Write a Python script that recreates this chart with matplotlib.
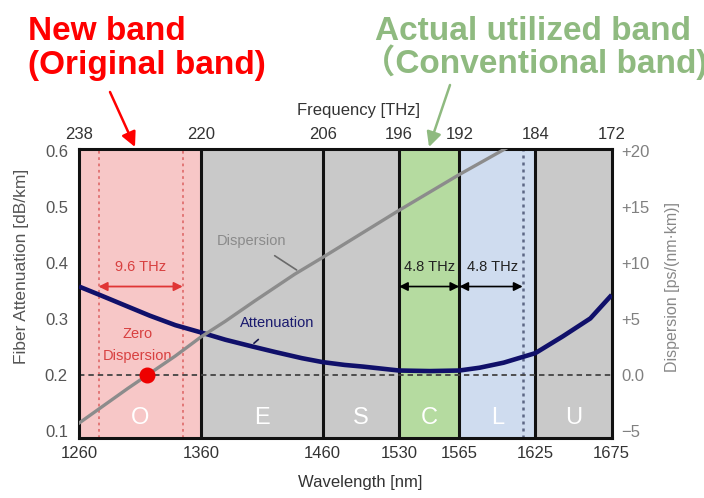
import numpy as np
import matplotlib
matplotlib.use("Agg")
import matplotlib.pyplot as plt

plt.rcParams['font.family'] = ['Liberation Sans', 'Noto Sans CJK JP', 'DejaVu Sans']

# bands and their edges
band_names = ['O', 'E', 'S', 'C', 'L', 'U']
band_edges = [1260, 1360, 1460, 1530, 1565, 1625, 1675]
freq_labels = ['238', '220', '206', '196', '192', '184', '172']
band_colors = ['#f7c7c7', '#c9c9c9', '#c9c9c9', '#b5dba0', '#cfdcef', '#c9c9c9']

# fiber attenuation [dB/km]
att_wl = [1260, 1277, 1298, 1318, 1339, 1360, 1380, 1402, 1421, 1443, 1460,
          1480, 1497, 1530, 1548, 1565, 1581, 1600, 1625, 1643, 1661, 1675]
att_val = [0.358, 0.343, 0.324, 0.306, 0.289, 0.276, 0.263, 0.251, 0.241, 0.230, 0.223,
           0.218, 0.215, 0.208, 0.207, 0.208, 0.213, 0.222, 0.239, 0.269, 0.301, 0.343]

# dispersion [ps/(nm km)]
disp_wl = [1260, 1300, 1339, 1360, 1380, 1404, 1437, 1460, 1530, 1565, 1606]
disp_val = [-4.3, -1.2, 1.7, 3.4, 4.8, 6.6, 9.0, 10.5, 14.7, 17.9, 20.5]
zero_disp_wl = 1316

# channel spacing markers
o_span = [1276, 1345]
c_span = [1530, 1565]
l_span = [1565, 1615]

# the original drawing is schematic: each band gets its own width
edge_px = [0, 122, 243.7, 320, 380.3, 456.3, 532.7]


def fwd(w):
    return np.interp(w, band_edges, edge_px)


def inv(p):
    return np.interp(p, edge_px, band_edges)


fig = plt.figure(figsize=(7.04, 4.98), dpi=100)
ax = fig.add_axes([0.1122, 0.1205, 0.7567, 0.5803])
ax.set_xscale('function', functions=(fwd, inv))
ax.set_xlim(band_edges[0], band_edges[-1])
ax.set_ylim(0.0875, 0.6036)

for i, name in enumerate(band_names):
    lo, hi = band_edges[i], band_edges[i + 1]
    ax.axvspan(lo, hi, color=band_colors[i], lw=0, zorder=0)
    ax.text((lo + hi) / 2, 0.123, name, color='white', fontsize=17,
            ha='center', va='center', zorder=2)
for e in band_edges[1:-1]:
    ax.axvline(e, color='#111111', lw=2.2, zorder=2)

ax.axhline(0.2, color='#444444', lw=1.3, ls=(0, (3, 2.2)), zorder=2.5)
for w in o_span:
    ax.axvline(w, color='#e07070', lw=1.3, ls=(0, (1.5, 2)), zorder=2)
ax.axvline(l_span[1], color='#5d6785', lw=1.8, ls=(0, (1.2, 1.6)), zorder=2)

ax.plot(att_wl, att_val, color='#10106a', lw=3.3, zorder=3,
        solid_capstyle='butt', solid_joinstyle='round')

# arrows for the spacing
ax.annotate('', xy=(o_span[0], 0.358), xytext=(o_span[1], 0.358),
            arrowprops=dict(arrowstyle='<|-|>', color='#e03535', lw=1.3,
                            mutation_scale=13, shrinkA=0, shrinkB=0), zorder=4)
ax.text(sum(o_span) / 2, 0.393, '9.6 THz', color='#d84040', fontsize=10.5,
        ha='center', va='center')
for span in (c_span, l_span):
    ax.annotate('', xy=(span[0], 0.358), xytext=(span[1], 0.358),
                arrowprops=dict(arrowstyle='<|-|>', color='black', lw=1.2,
                                mutation_scale=13, shrinkA=0, shrinkB=0), zorder=4)
ax.text(1547.5, 0.393, '4.8 THz', color='#222222', fontsize=10.5, ha='center', va='center')
ax.text(1591, 0.393, '4.8 THz', color='#222222', fontsize=10.5, ha='center', va='center')

# curve labels with leader lines
ax.annotate('Dispersion', xy=(1438.6, 0.3875), xytext=(1401.5, 0.440),
            color='#8a8a8a', fontsize=10.5, ha='center', va='center',
            arrowprops=dict(arrowstyle='-', color='#6a6a6a', lw=1.2,
                            shrinkA=7, shrinkB=0))
ax.annotate('Attenuation', xy=(1403.5, 0.2566), xytext=(1422.4, 0.2923),
            color='#1a1a6e', fontsize=10.5, ha='center', va='center',
            arrowprops=dict(arrowstyle='-', color='#1a1a50', lw=1.2,
                            shrinkA=7, shrinkB=0))
ax.text(1308, 0.2536, 'Zero\nDispersion', color='#d84040', fontsize=10.5,
        ha='center', va='center', linespacing=1.7)

for s in ax.spines.values():
    s.set_linewidth(2.2)
    s.set_color('#111111')

ax.set_xticks(band_edges)
ax.set_xticklabels([str(w) for w in band_edges])
ax.set_yticks([0.1, 0.2, 0.3, 0.4, 0.5, 0.6])
ax.set_yticklabels(['0.1', '0.2', '0.3', '0.4', '0.5', '0.6'])
ax.tick_params(axis='x', length=0, pad=6, labelsize=12, labelcolor='#333333')
ax.tick_params(axis='y', length=0, pad=8, labelsize=12, labelcolor='#555555')
ax.set_xlabel('Wavelength [nm]', fontsize=12, color='#333333')
ax.xaxis.set_label_coords(0.528, -0.128)
ax.set_ylabel('Fiber Attenuation [dB/km]', fontsize=12.5, color='#555555')
ax.yaxis.set_label_coords(-0.094, 0.595)

# right axis: dispersion
ax_r = ax.twinx()
ax_r.set_ylim(-5.625, 20.18)
ax_r.plot(disp_wl, disp_val, color='#8c8c8c', lw=2.4, zorder=3,
          solid_joinstyle='round')
ax_r.plot([zero_disp_wl], [0], 'o', color='#ee0000', ms=10.5, zorder=5)
ax_r.set_yticks([-5, 0, 5, 10, 15, 20])
ax_r.set_yticklabels(['\u22125', '0.0', '+5', '+10', '+15', '+20'])
ax_r.tick_params(axis='y', length=0, pad=7, labelsize=12, labelcolor='#808080')
ax_r.set_ylabel('Dispersion [ps/(nm\u00b7km)]', fontsize=11.5, color='#888888')
ax_r.yaxis.set_label_coords(1.10, 0.5235)
for s in ax_r.spines.values():
    s.set_visible(False)

# top axis: frequency
ax_t = ax.twiny()
ax_t.set_xscale('function', functions=(fwd, inv))
ax_t.set_xlim(band_edges[0], band_edges[-1])
ax_t.set_xticks(band_edges)
ax_t.set_xticklabels(freq_labels)
ax_t.tick_params(axis='x', length=0, pad=5, labelsize=12, labelcolor='#333333')
ax_t.set_xlabel('Frequency [THz]', fontsize=12, color='#333333')
ax_t.xaxis.set_label_coords(0.524, 1.118)
for s in ax_t.spines.values():
    s.set_visible(False)

# headline texts and pointers
fig.text(28 / 704, 1 - 40 / 498, 'New band', color='#ff0000', fontsize=24,
         fontweight='bold', va='baseline')
fig.text(28 / 704, 1 - 74 / 498, '(Original band)', color='#ff0000', fontsize=24,
         fontweight='bold', va='baseline')
fig.text(375 / 704, 1 - 40 / 498, 'Actual utilized band', color='#8fba80',
         fontsize=24, fontweight='bold', va='baseline')
fig.text(362 / 704, 1 - 73 / 498, '\uff08Conventional band)', color='#8fba80',
         fontsize=24, fontweight='bold', va='baseline')

ax.annotate('', xy=(135, 498 - 147), xytext=(110, 498 - 92),
            xycoords='figure pixels', textcoords='figure pixels',
            arrowprops=dict(arrowstyle='-|>', color='#ff0000', lw=1.8,
                            mutation_scale=22, shrinkA=0, shrinkB=0),
            annotation_clip=False)
ax.annotate('', xy=(429, 498 - 147), xytext=(450, 498 - 85),
            xycoords='figure pixels', textcoords='figure pixels',
            arrowprops=dict(arrowstyle='-|>', color='#8fba80', lw=1.8,
                            mutation_scale=22, shrinkA=0, shrinkB=0),
            annotation_clip=False)

fig.savefig('out.png', dpi=100)
